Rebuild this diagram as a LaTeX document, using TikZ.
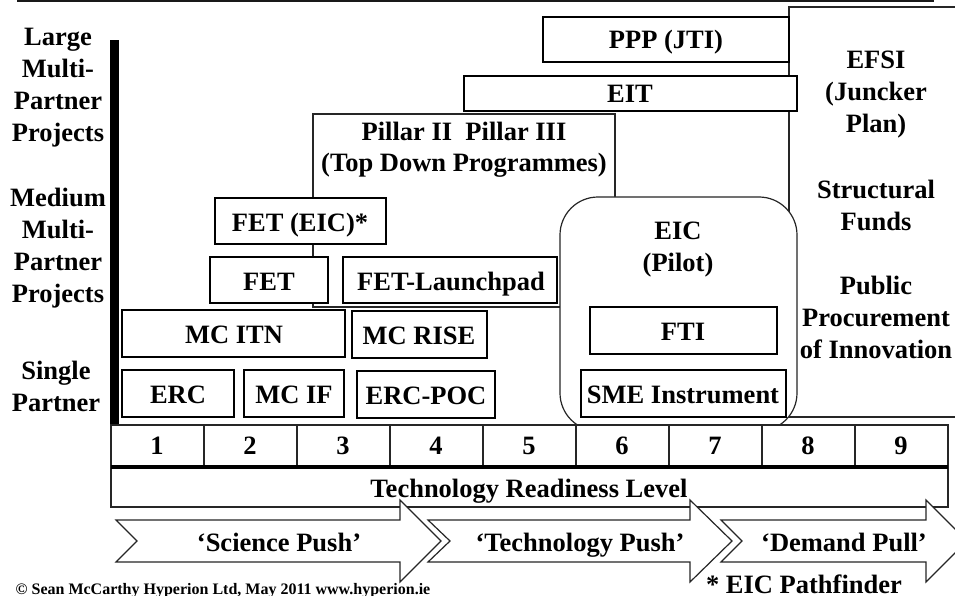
\documentclass[tikz,border=0pt]{standalone}
\usepackage{fontspec}
\setmainfont{Liberation Serif}
\tikzset{
  x=1pt,y=-1pt,
  lbl/.style={font=\bfseries\fontsize{26.5}{32}\selectfont,align=center,inner sep=0pt,text=black,anchor=base},
  box/.style={draw=black,line width=2pt,fill=white},
  thin box/.style={draw=black!85,line width=1.2pt,fill=white},
  arrowshape/.style={draw=black!85,line width=1.2pt,fill=white,line join=miter},
}
\begin{document}
\begin{tikzpicture}
\useasboundingbox (0,0) rectangle (955,596);
\clip (0,0) rectangle (955,596);
\fill[white] (0,0) rectangle (955,596);
% top rule, axis bar
\fill[black!90] (17,0) rectangle (934,2.5);
\fill[black] (110,40) rectangle (119,425);
% background frames
\draw[thin box] (313,114) rectangle (615,307);
\draw[thin box] (970,7) -- (789,7) -- (789,417) -- (970,417);
\draw[box] (543,17) rectangle (789,62);
\draw[box] (464,76) rectangle (797,111);
% EIC rounded
\draw[thin box,rounded corners=38pt] (560,197) rectangle (797,431);
% TRL table
\draw[thin box] (111,425) rectangle (948,507);
\foreach \k in {204,297,390,483,576,669,762,855} \draw[black!85,line width=1.2pt] (\k,425) -- (\k,466);
\fill[black] (111,464.5) rectangle (948,468.5);
% boxes
\draw[box] (215,198) rectangle (386,244);
\draw[box] (210,257) rectangle (328,303);
\draw[box] (343,257) rectangle (557,303);
\draw[box] (122,310) rectangle (345,357);
\draw[box] (352,311) rectangle (487,358);
\draw[box] (122,370) rectangle (234,417);
\draw[box] (244,370) rectangle (344,417);
\draw[box] (357,371) rectangle (495,418);
\draw[box] (590,307) rectangle (777,354);
\draw[box] (581,370) rectangle (786,417);
% arrows
\draw[arrowshape] (721,520) -- (926,520) -- (926,500) -- (967,541) -- (926,582) -- (926,562) -- (721,562) -- (742,541) -- cycle;
\draw[arrowshape] (428,520) -- (690,520) -- (690,500) -- (732,541) -- (690,582) -- (690,562) -- (428,562) -- (450,541) -- cycle;
\draw[arrowshape] (116,520) -- (400,520) -- (400,500) -- (441,541) -- (400,582) -- (400,562) -- (116,562) -- (137,541) -- cycle;
% labels
\node[lbl] (large) at (58,142) {Large\\Multi-\\Partner\\Projects};
\node[lbl] (medium) at (58,302) {Medium\\Multi-\\Partner\\Projects};
\node[lbl] (single) at (56,411) {Single\\Partner};
\node[lbl] (ppp) at (666,49) {PPP (JTI)};
\node[lbl] (eit) at (630,103) {EIT};
\node[lbl] (pillar) at (464,172) {Pillar II\ \ Pillar III\\(Top Down Programmes)};
\node[lbl] (feteic) at (300,231) {FET (EIC)*};
\node[lbl] (fet) at (269,290) {FET};
\node[lbl] (launch) at (451,290) {FET-Launchpad};
\node[lbl] (itn) at (234,343) {MC ITN};
\node[lbl] (rise) at (419,344) {MC RISE};
\node[lbl] (erc) at (178,403) {ERC};
\node[lbl] (mcif) at (294,403) {MC IF};
\node[lbl] (poc) at (426,404) {ERC-POC};
\node[lbl] (eic) at (678,271) {EIC\\(Pilot)};
\node[lbl] (fti) at (683,340) {FTI};
\node[lbl] (sme) at (683,403) {SME Instrument};
\node[lbl] (efsi) at (876,133) {EFSI\\(Juncker\\Plan)};
\node[lbl] (sf) at (876,230) {Structural\\Funds};
\node[lbl] (ppi) at (876,358) {Public\\Procurement\\of Innovation};
\foreach \n/\x in {1/157,2/250,3/343,4/436,5/529,6/622,7/715,8/808,9/901}
  \node[lbl] (n\n) at (\x,454) {\n};
\node[lbl] (trl) at (529,497) {Technology Readiness Level};
\node[lbl] (sp) at (279,551) {‘Science Push’};
\node[lbl] (tp) at (580,551) {‘Technology Push’};
\node[lbl] (dp) at (844,551) {‘Demand Pull’};
\node[lbl] (path) at (804,593) {* EIC Pathfinder};
\node[lbl,font=\bfseries\fontsize{16}{18}\selectfont] (copy) at (223,594) {© Sean McCarthy Hyperion Ltd, May 2011 www.hyperion.ie};
\end{tikzpicture}
\end{document}
